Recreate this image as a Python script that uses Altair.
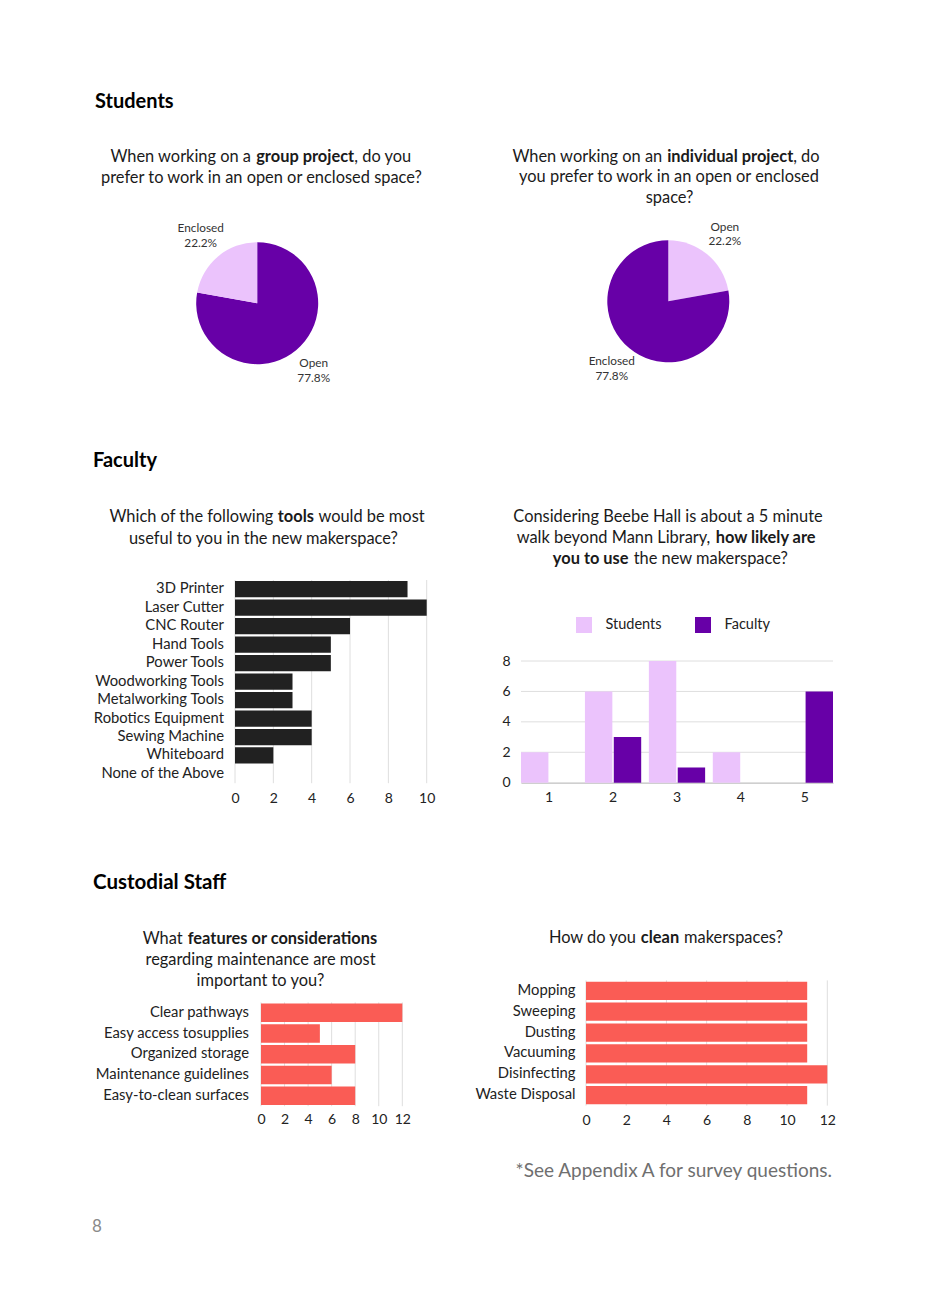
import altair as alt
import pandas as pd

W, H = 910, 1294
FONT = "Lato"
INK = "#1a1a1a"
LABEL = "#222222"
GRID = "#dedede"
LIGHT = "#EBC3FC"
DARK = "#6700A7"
CORAL = "#FA5C55"
BLACKBAR = "#212121"
TS = 16.4  # question title font size

# ---------------- data ----------------
pie_cats = ["Open", "Enclosed"]
group_vals = [77.8, 22.2]
indiv_vals = [22.2, 77.8]

tools = ["3D Printer", "Laser Cutter", "CNC Router", "Hand Tools", "Power Tools",
         "Woodworking Tools", "Metalworking Tools", "Robotics Equipment",
         "Sewing Machine", "Whiteboard", "None of the Above"]
tool_counts = [9, 10, 6, 5, 5, 3, 3, 4, 4, 2, 0]
tool_ticks = [0, 2, 4, 6, 8, 10]

ratings = ["1", "2", "3", "4", "5"]
groups = ["Students", "Faculty"]
likely_students = [2, 6, 8, 2, 0]
likely_faculty = [0, 3, 1, 0, 6]
likely_ticks = [0, 2, 4, 6, 8]

features = ["Clear pathways", "Easy access tosupplies", "Organized storage",
            "Maintenance guidelines", "Easy-to-clean surfaces"]
feature_counts = [12, 5, 8, 6, 8]

methods = ["Mopping", "Sweeping", "Dusting", "Vacuuming", "Disinfecting", "Waste Disposal"]
method_counts = [11, 11, 11, 11, 12, 11]
staff_ticks = [0, 2, 4, 6, 8, 10, 12]


# ---------------- helpers ----------------
def txt(s, x, y, size=TS, weight="normal", align="center", color=INK):
    return alt.Chart(pd.DataFrame({"t": [s]})).mark_text(
        font=FONT, fontSize=size, fontWeight=weight, align=align,
        baseline="middle", color=color
    ).encode(x=alt.value(x), y=alt.value(y), text="t:N")


def pie(vals, colors, cx, cy):
    df = pd.DataFrame({"cat": pie_cats, "val": vals, "ord": [0, 1]})
    df["lab"] = [f"{c}\n{v}%" for c, v in zip(pie_cats, vals)]
    base = alt.Chart(df).encode(
        theta=alt.Theta("val:Q", stack=True),
        order=alt.Order("ord:Q"),
        x=alt.value(cx), y=alt.value(cy),
    )
    arcs = base.mark_arc(radius=61).encode(
        color=alt.Color("cat:N", scale=alt.Scale(domain=pie_cats, range=colors), legend=None)
    )
    labels = base.mark_text(radius=88, font=FONT, fontSize=11.8, color="#333333",
                            lineBreak="\n", lineHeight=14.6, align="center",
                            baseline="middle", dy=-7.3).encode(text="lab:N")
    return alt.layer(arcs, labels)


def x_axis(ticks, axis_y, pad, size=14):
    return alt.Axis(orient="bottom", offset=axis_y - H, values=ticks, format="d", title=None,
                    domain=False, ticks=False, tickSize=0, grid=False, labelFont=FONT,
                    labelFontSize=size, labelColor=LABEL, labelPadding=pad,
                    labelFlush=False, labelOverlap=False, labelBaseline="top")


def y_axis(axis_x, pad, size=14.8):
    return alt.Axis(orient="left", offset=-axis_x, title=None, domain=False, ticks=False,
                    tickSize=0, grid=False, labelFont=FONT, labelFontSize=size,
                    labelColor=LABEL, labelPadding=pad, labelLimit=300)


def hbar(cats, vals, color, xr, yr, pi, ticks, xpad, ypad):
    df = pd.DataFrame({"cat": cats, "val": vals})
    xs = alt.Scale(domain=[ticks[0], ticks[-1]], range=xr, nice=False)
    ys = alt.Scale(domain=cats, range=yr, paddingInner=pi, paddingOuter=pi / 2)
    xa = x_axis(ticks, yr[1], xpad)
    grid = alt.Chart(pd.DataFrame({"tick": ticks})).mark_rule(
        color=GRID, strokeWidth=1).encode(
        x=alt.X("tick:Q", scale=xs, axis=xa),
        y=alt.value(yr[0]), y2=alt.value(yr[1]))
    bars = alt.Chart(df).mark_bar(color=color).encode(
        x=alt.X("val:Q", scale=xs, axis=xa),
        y=alt.Y("cat:N", scale=ys, sort=None, axis=y_axis(xr[0], ypad)))
    return alt.layer(grid, bars)


# ---------------- Students ----------------
layers = []
layers.append(txt("Students", 87, 94, size=20, weight="bold", align="left", color="#000000"))

layers += [
    txt("When working on a", 243.0, 149.3, align="right"),
    txt("group project", 297.2, 149.3, weight="bold"),
    txt(", do you", 346.3, 149.3, align="left"),
    txt("prefer to work in an open or enclosed space?", 253.4, 170.3),
]
layers.append(pie(group_vals, [DARK, LIGHT], 249.2, 295.2))

layers += [
    txt("When working on an", 654.2, 148.7, align="right"),
    txt("individual project", 722.2, 148.7, weight="bold"),
    txt(", do", 785.2, 148.7, align="left"),
    txt("you prefer to work in an open or enclosed", 661, 169.3),
    txt("space?", 661.6, 189.5),
]
layers.append(pie(indiv_vals, [LIGHT, DARK], 660.3, 293.3))

# ---------------- Faculty ----------------
layers.append(txt("Faculty", 85, 453, size=20, weight="bold", align="left", color="#000000"))

layers += [
    txt("Which of the following", 265.4, 509, align="right"),
    txt("tools", 287.9, 509, weight="bold"),
    txt("would be most", 310.4, 509, align="left"),
    txt("useful to you in the new makerspace?", 255.4, 530.5),
]
layers.append(hbar(tools, tool_counts, BLACKBAR, [227, 418.7], [572, 775.2], 0.12,
                   tool_ticks, 8.5, 11.5))

layers += [
    txt("Considering Beebe Hall is about a 5 minute", 660, 509),
    txt("walk beyond Mann Library,", 702.3, 530, align="right"),
    txt("how likely are", 757.6, 530, weight="bold"),
    txt("you to use", 582.7, 551, weight="bold"),
    txt("the new makerspace?", 625.7, 551, align="left"),
]

likely_df = pd.DataFrame({
    "rating": ratings * 2,
    "group": [groups[0]] * len(ratings) + [groups[1]] * len(ratings),
    "count": likely_students + likely_faculty,
})
lx = alt.Scale(domain=ratings, range=[513, 825], paddingInner=0.12, paddingOuter=0)
ly = alt.Scale(domain=[0, 8], range=[774.7, 653], nice=False)
l_xaxis = alt.Axis(orient="bottom", offset=774.7 - H, title=None, domain=True,
                   domainColor="#b5b5b5", ticks=False, tickSize=0, grid=False,
                   labelFont=FONT, labelFontSize=14, labelColor=LABEL, labelPadding=8,
                   labelAngle=0, labelBaseline="top")
l_yaxis = alt.Axis(orient="left", offset=-513, values=likely_ticks, format="d", title=None,
                   domain=False, ticks=False, tickSize=0, grid=False, labelFont=FONT,
                   labelFontSize=14, labelColor=LABEL, labelPadding=11)
l_grid = alt.Chart(pd.DataFrame({"tick": likely_ticks})).mark_rule(
    color=GRID, strokeWidth=1).encode(
    y=alt.Y("tick:Q", scale=ly, axis=l_yaxis), x=alt.value(513), x2=alt.value(825))
l_bars = alt.Chart(likely_df).mark_bar().encode(
    x=alt.X("rating:N", scale=lx, axis=l_xaxis),
    xOffset=alt.XOffset("group:N", scale=alt.Scale(domain=groups, paddingInner=0.05)),
    y=alt.Y("count:Q", scale=ly, axis=l_yaxis),
    color=alt.Color("group:N", scale=alt.Scale(domain=groups, range=[LIGHT, DARK]),
                    legend=alt.Legend(orient="none", legendX=568, legendY=609,
                                      direction="horizontal", title=None,
                                      symbolType="square", symbolSize=256,
                                      symbolStrokeWidth=0, labelFont=FONT,
                                      labelFontSize=14.5, labelColor=LABEL,
                                      labelOffset=13.5, columnPadding=33, padding=0)),
)
layers.append(alt.layer(l_grid, l_bars))

# ---------------- Custodial Staff ----------------
layers.append(txt("Custodial Staff", 85, 875, size=20.5, weight="bold", align="left", color="#000000"))

layers += [
    txt("What", 174.6, 931, align="right"),
    txt("features or considerations", 274.4, 931, weight="bold"),
    txt("regarding maintenance are most", 252.5, 952),
    txt("important to you?", 252.4, 973),
]
layers.append(hbar(features, feature_counts, CORAL, [253, 394.3], [994.4, 1098.2], 0.11,
                   staff_ticks, 6.5, 12.5))

layers += [
    txt("How do you", 628.0, 930, align="right"),
    txt("clean", 652.0, 930, weight="bold"),
    txt("makerspaces?", 676.0, 930, align="left"),
]
layers.append(hbar(methods, method_counts, CORAL, [578, 819.3], [972.4, 1097.6], 0.125,
                   staff_ticks, 7.5, 11))

layers.append(txt("*See Appendix A for survey questions.", 824, 1163, size=19,
                  align="right", color="#6f6f6f"))
layers.append(txt("8", 89, 1219, size=17, align="center", color="#8a8a8a"))

chart = alt.layer(*layers).resolve_scale(
    x="independent", y="independent", color="independent", theta="independent"
).resolve_axis(
    x="independent", y="independent"
).resolve_legend(
    color="independent"
).properties(
    width=W, height=H, padding=0, autosize=alt.AutoSizeParams(type="none")
).configure(font=FONT).configure_view(strokeWidth=0, stroke=None)

chart.save("out.html", embed_options={"renderer": "svg", "actions": False})
